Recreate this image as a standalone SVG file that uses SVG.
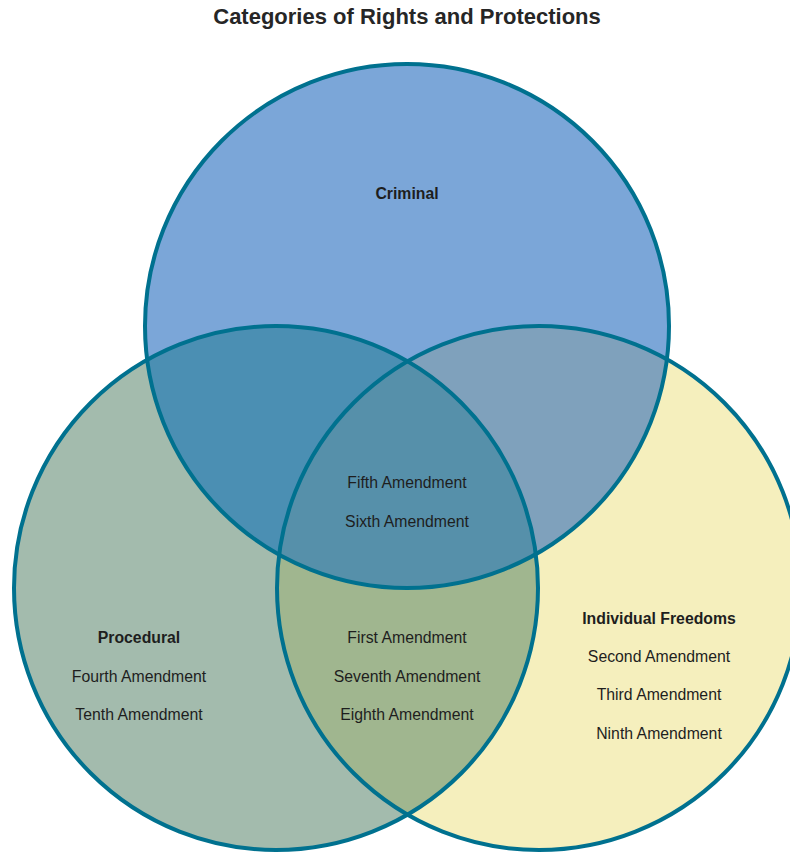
<svg xmlns="http://www.w3.org/2000/svg" width="790" height="856" viewBox="0 0 790 856">
<style>
.t{font-family:"Liberation Sans",Arial,sans-serif;font-size:15.8px;fill:#1e1e1e;text-anchor:middle}
.b{font-weight:bold}
.ttl{font-family:"Liberation Sans",Arial,sans-serif;font-size:22px;font-weight:bold;fill:#262626;text-anchor:middle}
.ring{fill:none;stroke:#00718f;stroke-width:4}
</style>
<defs>
<clipPath id="cT"><circle cx="407" cy="326" r="262"/></clipPath>
<clipPath id="cL"><circle cx="276" cy="588" r="262"/></clipPath>
<clipPath id="cR"><circle cx="539" cy="588" r="262"/></clipPath>
</defs>
<rect width="790" height="856" fill="#ffffff"/>
<text class="ttl" x="407" y="24">Categories of Rights and Protections</text>
<g id="fills">
<circle cx="407" cy="326" r="262" fill="#7ba6d8"/>
<circle cx="276" cy="588" r="262" fill="#a3bbad"/>
<circle cx="539" cy="588" r="262" fill="#f5efbd"/>
<g clip-path="url(#cT)"><circle cx="276" cy="588" r="262" fill="#4b8fb3"/><circle cx="539" cy="588" r="262" fill="#7fa1bc"/></g>
<g clip-path="url(#cL)"><circle cx="539" cy="588" r="262" fill="#a0b68f"/></g>
<g clip-path="url(#cT)"><g clip-path="url(#cL)"><circle cx="539" cy="588" r="262" fill="#5690aa"/></g></g>
</g>
<g id="criminal">
<circle class="ring" cx="407" cy="326" r="262"/>
<text class="t b" x="407" y="199">Criminal</text>
</g>
<g id="procedural">
<circle class="ring" cx="276" cy="588" r="262"/>
<text class="t b" x="139" y="643">Procedural</text>
<text class="t" x="139" y="682">Fourth Amendment</text>
<text class="t" x="139" y="720">Tenth Amendment</text>
</g>
<g id="individual">
<circle class="ring" cx="539" cy="588" r="262"/>
<text class="t b" x="659" y="624">Individual Freedoms</text>
<text class="t" x="659" y="662">Second Amendment</text>
<text class="t" x="659" y="700">Third Amendment</text>
<text class="t" x="659" y="739">Ninth Amendment</text>
</g>
<g id="center-all">
<text class="t" x="407" y="488">Fifth Amendment</text>
<text class="t" x="407" y="527">Sixth Amendment</text>
</g>
<g id="proc-indiv">
<text class="t" x="407" y="643">First Amendment</text>
<text class="t" x="407" y="682">Seventh Amendment</text>
<text class="t" x="407" y="720">Eighth Amendment</text>
</g>
</svg>
